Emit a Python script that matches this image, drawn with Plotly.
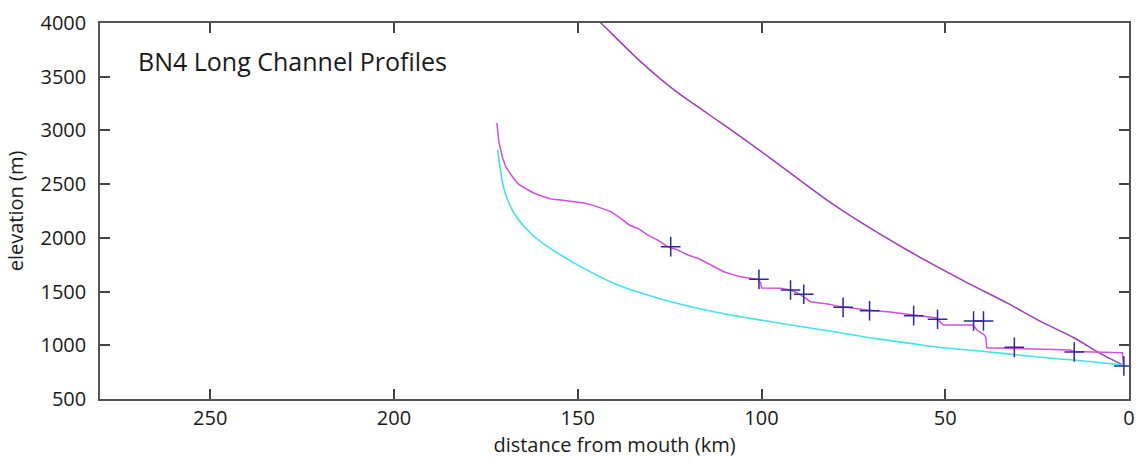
import plotly.graph_objects as go

# ---- data (distance from mouth in km, elevation in m) ----
upper_x = [145.0, 143.7, 132.9, 123.8, 114.8, 105.7, 95.7, 80.0, 60.4, 45.0, 33.2, 24.2, 15.0, 7.9, 1.6]
upper_y = [4040, 4000, 3640, 3377, 3160, 2943, 2694, 2300, 1887, 1600, 1394, 1225, 1070, 925, 816]

chan_x = [172.0, 171.5, 170.5, 169.6, 168.0, 166.4, 164.0, 162.0, 159.5, 157.3, 154.0, 151.0,
          148.0, 145.6, 143.0, 141.0, 138.5, 136.0, 133.5, 131.0, 128.0, 125.6, 123.0, 120.0,
          117.0, 114.8, 112.5, 110.3, 108.0, 105.7, 103.0, 101.0, 100.2, 100.0, 95.0, 92.0,
          90.3, 88.6, 86.7, 82.0, 78.5, 75.0, 71.3, 65.0, 58.7, 55.0, 52.3, 51.5, 50.5, 42.4,
          41.4, 39.5, 39.0, 38.7, 30.0, 20.0, 16.0, 15.0, 2.0, 1.8, 1.5]
chan_y = [3070, 2900, 2750, 2663, 2580, 2507, 2455, 2418, 2385, 2362, 2350, 2337,
          2322, 2300, 2270, 2244, 2185, 2120, 2085, 2027, 1975, 1918, 1890, 1841,
          1805, 1766, 1720, 1685, 1660, 1639, 1625, 1614, 1580, 1533, 1530, 1515,
          1487, 1453, 1406, 1385, 1360, 1345, 1329, 1310, 1282, 1268, 1254, 1220, 1189, 1189,
          1142, 1100, 1080, 978, 968, 958, 955, 942, 934, 930, 816]

model_x = [171.8, 170.0, 167.3, 162.8, 158.2, 149.2, 140.1, 131.0, 124.7, 113.0, 105.7,
           87.6, 78.5, 69.5, 59.5, 51.4, 40.5, 24.2, 15.2, 1.6]
model_y = [2823, 2446, 2229, 2043, 1918, 1732, 1576, 1468, 1406, 1313, 1266,
           1165, 1117, 1064, 1018, 980, 947, 888, 863, 816]

knick_x = [124.7, 100.7, 92.1, 88.5, 77.8, 70.6, 58.6, 52.1, 42.3, 39.6, 31.2, 14.9, 1.4]
knick_y = [1918, 1614, 1515, 1475, 1353, 1322, 1276, 1242, 1226, 1226, 981, 938, 807]

x_ticks = [250, 200, 150, 100, 50, 0]
y_ticks = [500, 1000, 1500, 2000, 2500, 3000, 3500, 4000]

FONT = "Open Sans"

fig = go.Figure()
fig.add_trace(go.Scatter(x=upper_x, y=upper_y, mode="lines",
                         line=dict(color="#9e3cbc", width=1.5, shape="spline", smoothing=0.8),
                         showlegend=False))
fig.add_trace(go.Scatter(x=model_x, y=model_y, mode="lines",
                         line=dict(color="#3fe3e8", width=1.6, shape="spline", smoothing=0.8),
                         showlegend=False))
fig.add_trace(go.Scatter(x=chan_x, y=chan_y, mode="lines",
                         line=dict(color="#d24ee0", width=1.5), showlegend=False))
fig.add_trace(go.Scatter(x=knick_x, y=knick_y, mode="markers",
                         marker=dict(symbol="cross-thin", size=14,
                                     line=dict(color="#2a2aa0", width=1.5)),
                         showlegend=False))

axis_common = dict(showline=True, mirror="ticks", linecolor="#555555", linewidth=1.5,
                   ticks="inside", ticklen=10, tickcolor="#444444", tickwidth=1.5,
                   showgrid=False, zeroline=False, automargin=False,
                   tickfont=dict(family=FONT, size=20, color="#1a1a1a"))

fig.update_layout(
    width=1144, height=466,
    margin=dict(l=100, r=15, t=23, b=67),
    paper_bgcolor="white", plot_bgcolor="white",
    xaxis=dict(range=[280, 0], tickvals=x_ticks, ticktext=[str(v) for v in x_ticks],
               ticklabelstandoff=0,
               title=dict(text="distance from mouth (km)", standoff=0,
                          font=dict(family=FONT, size=20, color="#1a1a1a")),
               **axis_common),
    yaxis=dict(range=[500, 4000], tickvals=y_ticks, ticktext=[str(v) for v in y_ticks],
               ticklabelstandoff=8,
               title=dict(text="elevation (m)", standoff=12,
                          font=dict(family=FONT, size=20, color="#1a1a1a")),
               **axis_common),
    annotations=[dict(text="BN4 Long Channel Profiles", xref="paper", yref="paper",
                      x=0.035, y=0.90, xanchor="left", yanchor="middle", showarrow=False,
                      font=dict(family=FONT, size=25, color="#1a1a1a"))],
)

fig.write_html("out.html")
